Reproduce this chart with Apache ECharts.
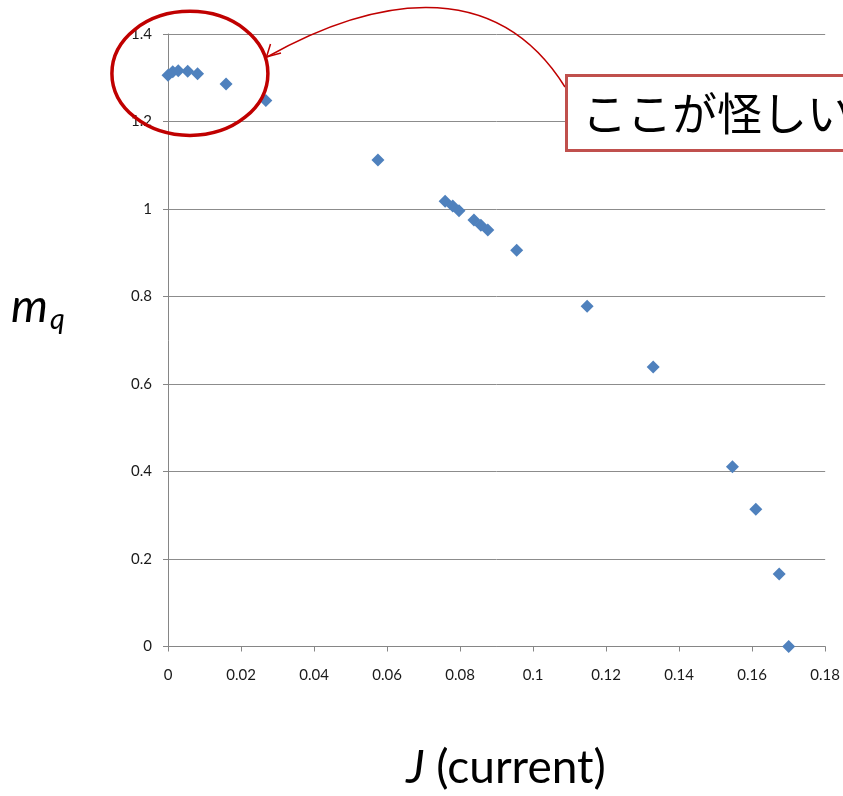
<!DOCTYPE html>
<html>
<head>
<meta charset="utf-8">
<script src="https://cdn.jsdelivr.net/npm/echarts@6/dist/echarts.min.js"></script>
<style>
html,body{margin:0;padding:0;background:#fff;}
#chart{width:843px;height:796px;}
</style>
</head>
<body>
<div id="chart"></div>
<script>
// Data: current J vs m_q
var jValues  = [0.0000, 0.0013, 0.0028, 0.0054, 0.0081, 0.0159, 0.0268, 0.0575, 0.0759, 0.0780, 0.0797, 0.0838, 0.0857, 0.0876, 0.0955, 0.1148, 0.1329, 0.1546, 0.1610, 0.1674, 0.1700];
var mqValues = [1.306, 1.314, 1.316, 1.315, 1.309, 1.286, 1.248, 1.112, 1.018, 1.007, 0.996, 0.975, 0.963, 0.952, 0.906, 0.778, 0.639, 0.411, 0.314, 0.166, 0.000];
var xTicks = { min: 0, max: 0.18, step: 0.02 };
var yTicks = { min: 0, max: 1.4, step: 0.2 };
var xTitle = ['J', ' (current)'];
var yTitle = ['m', 'q'];
var calloutText = 'ここが怪しい';
var circledPoint = [0.006, 1.31];

var points = jValues.map(function (j, i) { return [j, mqValues[i]]; });
var lab = 'Lato, "Open Sans", sans-serif';

var chart = echarts.init(document.getElementById('chart'), null, { renderer: 'canvas' });
var option = {
  animation: false,
  backgroundColor: '#fff',
  grid: { left: 168, right: 17.5, top: 34, bottom: 149.5, containLabel: false },
  xAxis: {
    type: 'value', min: xTicks.min, max: xTicks.max, interval: xTicks.step,
    axisLine: { show: true, onZero: false, lineStyle: { color: '#868686', width: 1 } },
    axisTick: { show: true, length: 5, lineStyle: { color: '#868686' } },
    axisLabel: { margin: 21, fontSize: 15, color: '#1a1a1a', fontFamily: lab },
    splitLine: { show: false }
  },
  yAxis: {
    type: 'value', min: yTicks.min, max: yTicks.max, interval: yTicks.step,
    axisLine: { show: true, lineStyle: { color: '#868686', width: 1 } },
    axisTick: { show: true, length: 5, lineStyle: { color: '#868686' } },
    axisLabel: { margin: 16, fontSize: 15, color: '#1a1a1a', fontFamily: lab },
    splitLine: { show: true, lineStyle: { color: '#8c8c8c', width: 1 } }
  },
  series: [{
    type: 'scatter',
    data: points,
    symbol: 'diamond',
    symbolSize: [13, 13],
    itemStyle: { color: '#4f81bd', opacity: 1 },
    z: 3
  }]
};
chart.setOption(option);

var c = chart.convertToPixel({ gridIndex: 0 }, circledPoint);
chart.setOption({
  graphic: [
    {
      type: 'text', left: 11, top: 283,
      style: {
        text: '{m|' + yTitle[0] + '}{q|' + yTitle[1] + '}',
        rich: {
          m: { fontSize: 47, fontStyle: 'italic', fontFamily: lab, fill: '#000' },
          q: { fontSize: 29, fontStyle: 'italic', fontFamily: lab, fill: '#000', padding: [26, 0, 0, 2] }
        }
      }
    },
    {
      type: 'text', x: 506, y: 768,
      style: {
        text: '{j|' + xTitle[0] + '}{r|' + xTitle[1] + '}',
        align: 'center', verticalAlign: 'middle',
        rich: {
          j: { fontSize: 46, fontStyle: 'italic', fontFamily: lab, fill: '#000' },
          r: { fontSize: 46, fontFamily: lab, fill: '#000' }
        }
      }
    },
    {
      type: 'ellipse', z: 100,
      shape: { cx: c[0], cy: c[1], rx: 78, ry: 62 },
      style: { fill: 'none', stroke: '#c00000', lineWidth: 3.5 }
    },
    {
      type: 'bezierCurve', z: 100,
      shape: { x1: 565, y1: 87, cpx1: 492, cpy1: -30, cpx2: 365, cpy2: 2, x2: 267, y2: 57 },
      style: { fill: 'none', stroke: '#c00000', lineWidth: 1.5 }
    },
    {
      type: 'polyline', z: 100,
      shape: { points: [[270.5, 44], [266.5, 57], [281, 53]] },
      style: { fill: 'none', stroke: '#c00000', lineWidth: 1.5 }
    },
    {
      type: 'rect', z: 101,
      shape: { x: 566.5, y: 75.5, width: 300, height: 75 },
      style: { fill: '#fff', stroke: '#c0504d', lineWidth: 3 }
    },
    {
      type: 'text', z: 102, x: 582, y: 114,
      style: {
        text: calloutText, fontSize: 45, verticalAlign: 'middle',
        fontFamily: '"Noto Sans CJK JP", sans-serif', fill: '#000'
      }
    }
  ]
});
</script>
</body>
</html>
